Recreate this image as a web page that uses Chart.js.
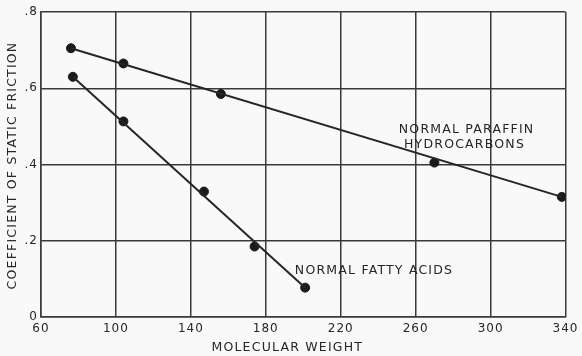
<!DOCTYPE html>
<html>
<head>
<meta charset="utf-8">
<script src="https://cdn.jsdelivr.net/npm/chart.js@4/dist/chart.umd.min.js"></script>
<style>
html,body{margin:0;padding:0;background:#f9f9f9}
#wrap{width:582px;height:356px}
</style>
</head>
<body>
<div id="wrap"><canvas id="friction"></canvas></div>
<script>
// molecular weight vs coefficient of static friction
const paraffinWeight = [76, 104, 156, 270, 338]
const paraffinFriction = [0.705, 0.665, 0.585, 0.405, 0.315]
const fattyWeight = [77, 104, 147, 174, 201]
const fattyFriction = [0.63, 0.513, 0.329, 0.185, 0.077]
const xTicks = [60, 100, 140, 180, 220, 260, 300, 340]
const yTicks = [0, 0.2, 0.4, 0.6, 0.8]

const ink = "#262626"
const font = "'DejaVu Sans', sans-serif"

function pts(xs, ys){
  return xs.map((x,i)=>({x:x, y:ys[i]}))
}
function ends(xs, ys){
  const n = xs.length-1
  return [{x:xs[0],y:ys[0]},{x:xs[n],y:ys[n]}]
}

// curve labels, placed in data coordinates
const labels = [
  {x:251, y:0.49, lines:["NORMAL PARAFFIN"," HYDROCARBONS"]},
  {x:195.5, y:0.121, lines:["NORMAL FATTY ACIDS"]}
]

const labelPlugin = {
  id:"curveLabels",
  beforeDraw(chart){
    chart.ctx.letterSpacing = "1px"
  },
  afterDraw(chart){
    const c = chart.ctx, sx = chart.scales.x, sy = chart.scales.y, a = chart.chartArea
    c.save()
    c.fillStyle = ink
    c.letterSpacing = "1.2px"
    c.font = "12.5px " + font
    c.textBaseline = "middle"
    labels.forEach(l=>{
      l.lines.forEach((t,i)=>{
        c.fillText(t, sx.getPixelForValue(l.x), sy.getPixelForValue(l.y) + i*15)
      })
    })
    // axis titles
    c.textAlign = "center"
    c.fillText("MOLECULAR WEIGHT", (a.left+a.right)/2 - 16, 348)
    c.translate(13, (a.top+a.bottom)/2 + 1)
    c.rotate(-Math.PI/2)
    c.fillText("COEFFICIENT OF STATIC FRICTION", 0, 0)
    c.restore()
  }
}

const ctx = document.getElementById("friction")

new Chart(ctx,{
  type:"scatter",
  data:{
    datasets:[
      {data:ends(paraffinWeight,paraffinFriction), showLine:true, borderColor:ink, borderWidth:2, pointRadius:0},
      {data:ends(fattyWeight,fattyFriction), showLine:true, borderColor:ink, borderWidth:2, pointRadius:0},
      {data:pts(paraffinWeight,paraffinFriction), backgroundColor:"#1a1a1a", borderColor:"#1a1a1a", pointRadius:4.5},
      {data:pts(fattyWeight,fattyFriction), backgroundColor:"#1a1a1a", borderColor:"#1a1a1a", pointRadius:4.5}
    ]
  },
  options:{
    responsive:true,
    maintainAspectRatio:false,
    animation:false,
    layout:{padding:{top:12,right:8,left:0,bottom:0}},
    plugins:{legend:{display:false},tooltip:{enabled:false}},
    scales:{
      x:{
        type:"linear", min:60, max:340,
        afterBuildTicks:s=>{s.ticks = xTicks.map(v=>({value:v}))},
        afterFit:s=>{s.height = 39},
        grid:{color:"#3a3a3a", lineWidth:1.5, drawTicks:false},
        border:{color:"#3a3a3a", width:1.5},
        ticks:{color:ink, font:{family:font, size:12}, padding:5}
      },
      y:{
        min:0, max:0.8,
        afterBuildTicks:s=>{s.ticks = yTicks.map(v=>({value:v}))},
        afterFit:s=>{s.width = 41},
        grid:{color:"#3a3a3a", lineWidth:1.5, drawTicks:false},
        border:{color:"#3a3a3a", width:1.5},
        ticks:{color:ink, font:{family:font, size:12}, padding:3,
          callback:v=> v===0 ? "0" : "." + Math.round(v*10)}
      }
    }
  },
  plugins:[labelPlugin]
})
</script>
</body>
</html>
